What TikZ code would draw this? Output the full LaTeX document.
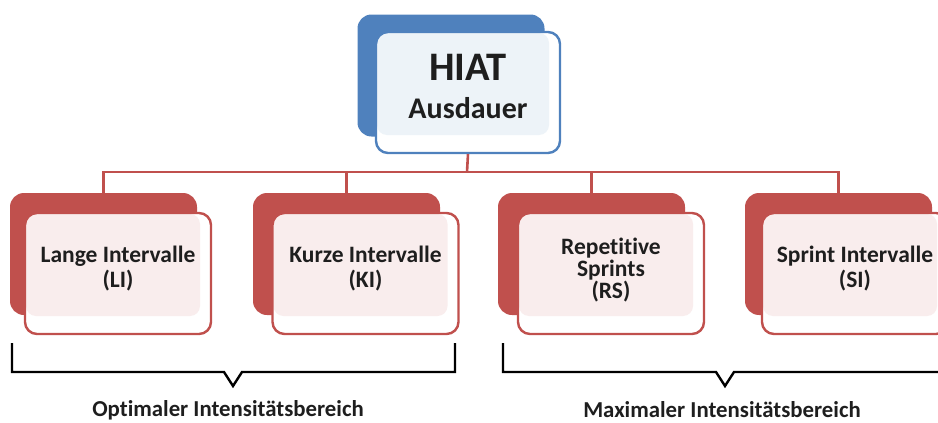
\documentclass[tikz,border=0pt]{standalone}
\usepackage{fontspec}
\setmainfont{Carlito}[Ligatures=NoCommon]
\usetikzlibrary{positioning}
\definecolor{hiatblue}{RGB}{79,129,189}
\definecolor{hiatred}{RGB}{192,80,77}
\definecolor{ink}{RGB}{30,30,30}
\newcommand{\liftup}[1]{\rule[-#1]{0pt}{#1}}

\begin{document}
\begin{tikzpicture}[x=1pt, y=-1pt,
  every node/.style={font=\bfseries, text=ink},
  backbox/.style={rounded corners=14pt, minimum width=187pt, minimum height=122pt, inner sep=0pt},
  frontbox/.style={draw=#1, line width=2.4pt, fill=white, rounded corners=12pt,
    minimum width=186pt, minimum height=121pt, align=center, inner sep=0pt,
    font=\bfseries\fontsize{23.5}{25}\selectfont,
    path picture={\fill[#1!10, rounded corners=10pt]
      ([shift={(1pt,-1pt)}]path picture bounding box.north west) rectangle
      ([shift={(-11pt,18pt)}]path picture bounding box.south east);}},
  conn/.style={draw=hiatred, line width=2.6pt},
  brace/.style={draw=black, line width=2.4pt},
  rangetext/.style={font=\bfseries\fontsize{22.8}{26}\selectfont}
]
  \clip (0,0) rectangle (938,423);

  % top box
  \node[backbox, fill=hiatblue] (hiat-back) at (451,75.5) {};
  \node[frontbox=hiatblue, minimum width=184pt, font=\bfseries\fontsize{30}{38}\selectfont] (hiat) at (468,92.5)
    {{\fontsize{40.5}{38}\selectfont HIAT}\\Ausdauer\liftup{13pt}};

  % four methods
  \node[backbox, fill=hiatred] (li-back) at (103.5,254) {};
  \node[frontbox=hiatred] (li) at (118,273.5) {Lange Intervalle\\(LI)\liftup{13pt}};
  \node[backbox, fill=hiatred] (ki-back) at (346.5,254) {};
  \node[frontbox=hiatred] (ki) at (365.5,273.5) {Kurze Intervalle\\(KI)\liftup{13pt}};
  \node[backbox, fill=hiatred] (rs-back) at (591.5,254) {};
  \node[frontbox=hiatred, font=\bfseries\fontsize{23.5}{22}\selectfont] (rs) at (611,273.5) {Repetitive\\Sprints\\(RS)\liftup{11pt}};
  \node[backbox, fill=hiatred] (si-back) at (838.5,254) {};
  \node[frontbox=hiatred] (si) at (855,273.5) {Sprint Intervalle\\(SI)\liftup{13pt}};

  % tree lines
  \coordinate (bus) at (467,172);
  \draw[conn] (hiat.south) -- (bus);
  \draw[conn] (li-back.north) -- (li-back.north |- bus) -- (si-back.north |- bus) -- (si-back.north);
  \draw[conn] (ki-back.north) -- (ki-back.north |- bus);
  \draw[conn] (rs-back.north) -- (rs-back.north |- bus);

  % ranges
  \coordinate (opt-l) at (12,343);
  \coordinate (opt-r) at (455,343);
  \coordinate (opt-tip) at (233,386);
  \draw[brace] (opt-l) |- (224,372) -- (opt-tip) -- (242,372) -| (opt-r);
  \node[rangetext] (opt) at (228,410) {Optimaler Intensitätsbereich};

  \coordinate (max-l) at (503,343);
  \coordinate (max-r) at (948,343);
  \coordinate (max-tip) at (725,386);
  \draw[brace] (max-l) |- (716,372) -- (max-tip) -- (734,372) -| (max-r);
  \node[rangetext] (max) at (722,410) {Maximaler Intensitätsbereich};
\end{tikzpicture}
\end{document}
